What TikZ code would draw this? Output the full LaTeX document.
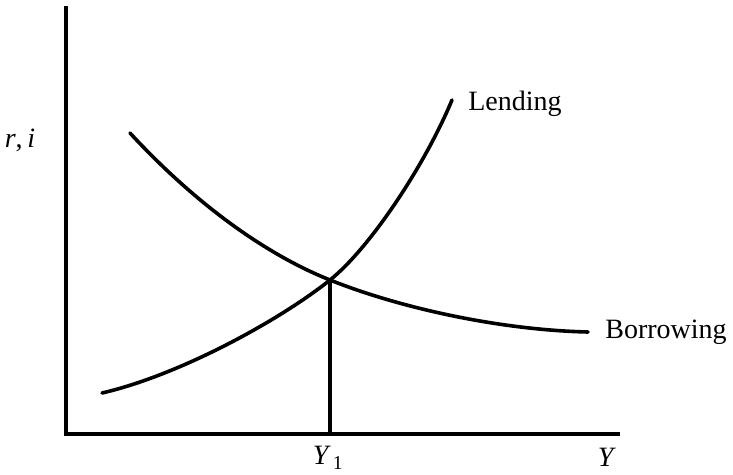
\documentclass[tikz,border=0pt]{standalone}
\usepackage{fontspec}
\setmainfont{Liberation Serif}
\usepackage{tikz}

\begin{document}
\begin{tikzpicture}[x=1pt, y=-1pt, every node/.style={font=\fontsize{28}{30}\selectfont, inner sep=0pt},
	curve/.style={line width=3.6pt, line cap=round}]
	\useasboundingbox (0,0) rectangle (733,474);
	% axes
	\coordinate (O) at (66,434);
	\coordinate (ytop) at (66,6);
	\coordinate (xend) at (620,434);
	\draw[line width=3.8pt] (ytop) -- (O) -- (xend);
	\node (rilabel) at (20,140) {\textit{r},\,\textit{i}};
	\node (ylabel) at (607,457) {\textit{Y}};
	% curves
	\coordinate (eq) at (330,280);
	\coordinate (eqfoot) at (330,434);
	\draw[curve] (102,393) .. controls (180,375) and (280,320) .. (eq)
		.. controls (370,248) and (425,165) .. (452,100);
	\draw[curve] (130,133) .. controls (190,198) and (260,252) .. (eq)
		.. controls (400,308) and (500,330) .. (588,332);
	\node (lendlabel) at (515,104) {Lending};
	\node (borrowlabel) at (666,332) {Borrowing};
	% equilibrium
	\draw[curve] (eq) -- (eqfoot);
	\node (yonelabel) at (328,458) {\textit{Y}\kern2pt\textsubscript{1}};
\end{tikzpicture}
\end{document}
